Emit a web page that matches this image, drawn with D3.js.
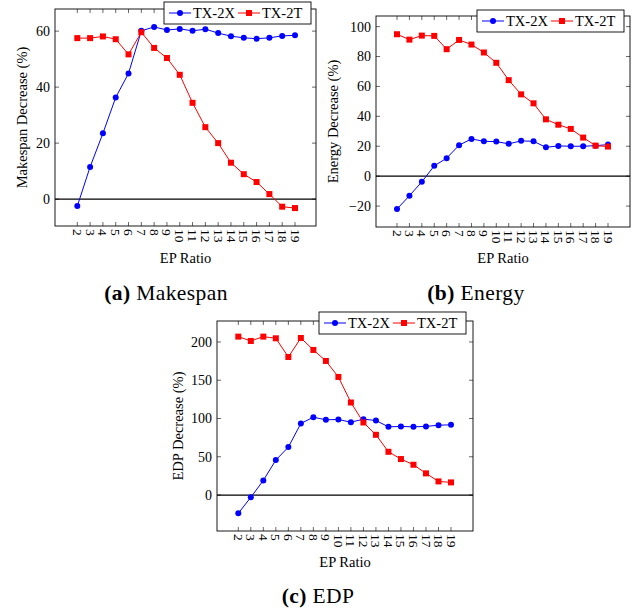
<html>
<script src='https://d3js.org/d3.v7.min.js'></script>
<style>
  body { margin: 0; background: white; }
  text { font-family: 'Liberation Serif', 'DejaVu Serif', serif; fill: black; }
</style>
<body onload='init()'>
<svg width=638 height=613></svg>
<script>

// EP ratio categories
const epRatio = [2,3,4,5,6,7,8,9,10,11,12,13,14,15,16,17,18,19];
const seriesNames = ['TX-2X', 'TX-2T'];

// (a) makespan decrease (%)
const makespan2X = [-2.5,11.5,23.5,36.3,44.9,60.1,61.5,60.4,60.8,60.1,60.7,59.3,58.2,57.6,57.3,57.6,58.3,58.5];
const makespan2T = [57.5,57.5,58.1,57.1,51.7,59.6,54.0,50.4,44.4,34.4,25.7,20.0,13.0,8.9,6.1,1.8,-2.7,-3.2];
const makespanTicks = [0,20,40,60];

// (b) energy decrease (%)
const energy2X = [-22,-13.1,-3.8,6.9,12,20.7,24.9,23.3,23.1,21.6,23.6,23.3,19.3,20.2,20,20,20.4,21.1];
const energy2T = [94.9,91.3,94,93.8,84.9,91.1,88,82.7,75.8,64.2,54.7,48.7,38,34.4,31.6,25.8,20.4,19.8];
const energyTicks = [-20,0,20,40,60,80,100];

// (c) EDP decrease (%)
const edp2X = [-23.9,-3,19.1,45.7,62.6,93.5,101.7,98.3,98.7,95.2,99.1,97.4,89.1,89.6,89.1,89.6,91.3,91.7];
const edp2T = [207,201.3,207,204.8,180.4,205.2,189.6,175.2,154.3,120.9,94.8,78.7,56.5,47,39.6,28.3,17.8,16.5];
const edpTicks = [0,50,100,150,200];

const colors = ['#0000ff', '#ff0000'];

function init() {
  const svg = d3.select('svg');

  const panels = [
    {s: [makespan2X, makespan2T], ticks: makespanTicks, ylabel: 'Makespan Decrease (%)',
     box: {l: 55, t: 9, r: 316, b: 226}, xr: [77.3, 295], yd: [-9.6, 67.9],
     ylabX: 22, xlabY: 263, leg: {x: 164, y: 2},
     cap: {x: 166, y: 300, b: '(a)', t: 'Makespan'}},
    {s: [energy2X, energy2T], ticks: energyTicks, ylabel: 'Energy Decrease (%)',
     box: {l: 376, t: 16, r: 630, b: 227}, xr: [397, 608], yd: [-34, 107.1],
     ylabX: 333, xlabY: 263, leg: {x: 477, y: 10},
     cap: {x: 476, y: 300, b: '(b)', t: 'Energy'}},
    {s: [edp2X, edp2T], ticks: edpTicks, ylabel: 'EDP Decrease (%)',
     box: {l: 217, t: 321, r: 473, b: 531}, xr: [238.3, 451], yd: [-47, 227.4],
     ylabX: 178, xlabY: 567, leg: {x: 319, y: 312},
     cap: {x: 318, y: 603, b: '(c)', t: 'EDP'}}
  ];

  panels.forEach(function(p) {
    const g = svg.append('g');
    const b = p.box;
    const x = d3.scaleLinear().domain([2, 19]).range(p.xr);
    const y = d3.scaleLinear().domain(p.yd).range([b.b, b.t]);

    // frame
    g.append('rect').attr('x', b.l).attr('y', b.t)
      .attr('width', b.r - b.l).attr('height', b.b - b.t)
      .attr('fill', 'none').attr('stroke', 'black').attr('stroke-width', 0.9);

    // inward ticks on all four sides
    epRatio.forEach(function(d) {
      g.append('line').attr('x1', x(d)).attr('x2', x(d)).attr('y1', b.b).attr('y2', b.b - 4)
        .attr('stroke', 'black').attr('stroke-width', 0.6);
      g.append('line').attr('x1', x(d)).attr('x2', x(d)).attr('y1', b.t).attr('y2', b.t + 4)
        .attr('stroke', 'black').attr('stroke-width', 0.6);
      g.append('text').attr('transform', 'translate(' + x(d) + ',' + (b.b + 3) + ') rotate(90)')
        .attr('dy', '0.33em').attr('font-size', 13.5).text(d);
    });
    p.ticks.forEach(function(d) {
      g.append('line').attr('x1', b.l).attr('x2', b.l + 4).attr('y1', y(d)).attr('y2', y(d))
        .attr('stroke', 'black').attr('stroke-width', 0.6);
      g.append('line').attr('x1', b.r).attr('x2', b.r - 4).attr('y1', y(d)).attr('y2', y(d))
        .attr('stroke', 'black').attr('stroke-width', 0.6);
      g.append('text').attr('x', b.l - 5).attr('y', y(d)).attr('dy', '0.35em')
        .attr('text-anchor', 'end').attr('font-size', 14)
        .text(d < 0 ? '\u2212' + Math.abs(d) : d);
    });

    // zero line
    g.append('line').attr('x1', b.l).attr('x2', b.r).attr('y1', y(0)).attr('y2', y(0))
      .attr('stroke', 'black').attr('stroke-width', 1.3);

    // axis labels
    g.append('text').attr('transform', 'translate(' + p.ylabX + ',' + ((b.t + b.b) / 2) + ') rotate(-90)')
      .attr('text-anchor', 'middle').attr('dy', '0.35em').attr('font-size', 14.5).text(p.ylabel);
    g.append('text').attr('x', (b.l + b.r) / 2).attr('y', p.xlabY)
      .attr('text-anchor', 'middle').attr('font-size', 14.5).text('EP Ratio');

    // series
    const line = d3.line().x(function(d, i) { return x(epRatio[i]); }).y(function(d) { return y(d); });
    p.s.forEach(function(vals, k) {
      g.append('path').datum(vals).attr('d', line).attr('fill', 'none')
        .attr('stroke', colors[k]).attr('stroke-width', 1);
      if (k == 0) {
        g.selectAll('.c').data(vals).enter().append('circle')
          .attr('cx', function(d, i) { return x(epRatio[i]); })
          .attr('cy', function(d) { return y(d); })
          .attr('r', 3).attr('fill', colors[0]);
      } else {
        g.selectAll('.sq').data(vals).enter().append('rect')
          .attr('x', function(d, i) { return x(epRatio[i]) - 3; })
          .attr('y', function(d) { return y(d) - 3; })
          .attr('width', 6).attr('height', 6).attr('fill', colors[1]);
      }
    });

    // legend
    const L = p.leg;
    g.append('rect').attr('x', L.x).attr('y', L.y).attr('width', 147).attr('height', 22)
      .attr('fill', 'white').attr('stroke', 'black').attr('stroke-width', 0.9);
    const cy = L.y + 11;
    [0, 1].forEach(function(k) {
      const x0 = L.x + 5 + k * 69;
      g.append('line').attr('x1', x0).attr('x2', x0 + 22).attr('y1', cy).attr('y2', cy)
        .attr('stroke', colors[k]).attr('stroke-width', 1);
      if (k == 0) g.append('circle').attr('cx', x0 + 11).attr('cy', cy).attr('r', 3).attr('fill', colors[0]);
      else g.append('rect').attr('x', x0 + 8).attr('y', cy - 3).attr('width', 6).attr('height', 6).attr('fill', colors[1]);
      g.append('text').attr('x', x0 + 24).attr('y', cy).attr('dy', '0.35em')
        .attr('font-size', 14.5).text(seriesNames[k]);
    });

    // caption
    const cap = g.append('text').attr('x', p.cap.x).attr('y', p.cap.y)
      .attr('text-anchor', 'middle').attr('font-size', 21.5).attr('letter-spacing', 0.4);
    cap.append('tspan').attr('font-weight', 'bold').text(p.cap.b);
    cap.append('tspan').text(' ' + p.cap.t);
  });
}

</script>
</body>
</html>
